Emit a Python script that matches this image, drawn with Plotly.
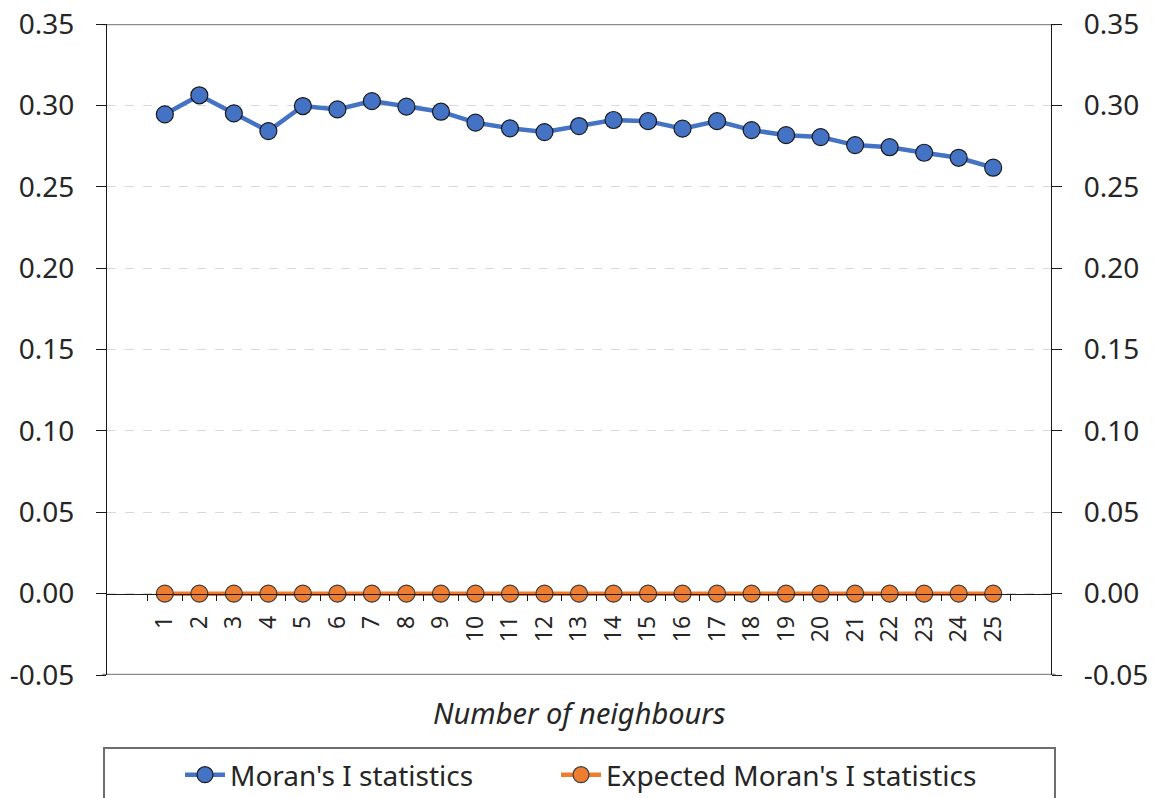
import plotly.graph_objects as go

neighbours = [str(i) for i in range(1, 26)]
morans_i = [0.2945, 0.3062, 0.2951, 0.2842, 0.2996, 0.2975, 0.3026, 0.2992, 0.2961,
            0.2894, 0.2859, 0.2836, 0.2873, 0.2910, 0.2903, 0.2857, 0.2903, 0.2848,
            0.2817, 0.2805, 0.2756, 0.2743, 0.2709, 0.2678, 0.2617]
expected_i = [0.0] * 25
y_ticks = [-0.05, 0.0, 0.05, 0.10, 0.15, 0.20, 0.25, 0.30, 0.35]
y_ticktext = ["%.2f" % v for v in y_ticks]

FONT = "Noto Sans"
TXT = "#262626"
W, H = 1158, 798
L, R, T, B = 107, 107, 24, 123
PW, PH = W - L - R, H - T - B


def px_x(x):
    return (x - L) / PW


def px_y(y):
    return (H - B - y) / PH


fig = go.Figure()
fig.add_trace(go.Scatter(
    x=neighbours, y=morans_i, name="Moran's I statistics", mode="lines+markers",
    line=dict(color="#4472C4", width=4.5),
    marker=dict(color="#4472C4", size=17, line=dict(color="#1a1a1a", width=1.2)),
    legend="legend",
))
fig.add_trace(go.Scatter(
    x=neighbours, y=expected_i, name="Expected Moran's I statistics", mode="lines+markers",
    line=dict(color="#ED7D31", width=4.5),
    marker=dict(color="#ED7D31", size=17, line=dict(color="#3a3a3a", width=1.2)),
    legend="legend2",
))
# invisible trace for right axis
fig.add_trace(go.Scatter(x=neighbours, y=morans_i, yaxis="y2", showlegend=False,
                         hoverinfo="skip", mode="markers", marker=dict(opacity=0)))

yaxis_common = dict(
    range=[-0.05, 0.35], tickmode="array", tickvals=y_ticks, ticktext=y_ticktext,
    showline=True, linecolor="#1a1a1a", linewidth=1.3,
    ticks="outside", ticklen=10, tickcolor="#1a1a1a", ticklabelstandoff=16,
    ticklabeloverflow="allow",
    tickfont=dict(family=FONT, size=28, color=TXT),
    zeroline=False, automargin=False,
)

leg_common = dict(orientation="h", xanchor="left", xref="container",
                  y=1 - 775 / H, yanchor="middle", yref="container",
                  font=dict(family=FONT, size=28, color=TXT), bgcolor="rgba(0,0,0,0)",
                  itemwidth=40)

fig.update_layout(
    width=W, height=H,
    margin=dict(l=L, r=R, t=T, b=B),
    paper_bgcolor="white", plot_bgcolor="white",
    xaxis=dict(
        type="category", anchor="free", position=(0 - (-0.05)) / 0.40,
        showline=True, linecolor="#1a1a1a", linewidth=1,
        ticks="outside", ticklen=6, tickcolor="#1a1a1a", tickson="boundaries",
        ticklabelstandoff=12, ticklabeloverflow="allow",
        tickangle=-90, tickfont=dict(family=FONT, size=23, color=TXT),
        showgrid=False, zeroline=False, automargin=False,
    ),
    yaxis=dict(**yaxis_common, showgrid=True, gridcolor="#d9d9d9", griddash="dash", gridwidth=1),
    yaxis2=dict(**yaxis_common, overlaying="y", side="right", showgrid=False),
    legend=dict(**leg_common, x=180 / W),
    legend2=dict(**leg_common, x=556 / W),
    showlegend=True,
)

fig.add_annotation(text="<i>Number of neighbours</i>", xref="paper", yref="paper",
                   x=px_x(579), y=px_y(712), xanchor="center", yanchor="middle",
                   showarrow=False, font=dict(family=FONT, size=29, color=TXT))

# solid top and bottom border lines
for yv in (0.35, -0.05):
    fig.add_shape(type="line", xref="paper", yref="y", x0=-0.005, x1=1.005, y0=yv, y1=yv,
                  line=dict(color="#8c8c8c", width=2.5), layer="below")
# legend box
fig.add_shape(type="rect", xref="paper", yref="paper",
              x0=px_x(104), x1=px_x(1055), y0=px_y(748), y1=px_y(820),
              line=dict(color="#6e6e6e", width=2))

fig.write_html("out.html", config={"displayModeBar": False},
               post_script="document.body.style.margin='0';")
